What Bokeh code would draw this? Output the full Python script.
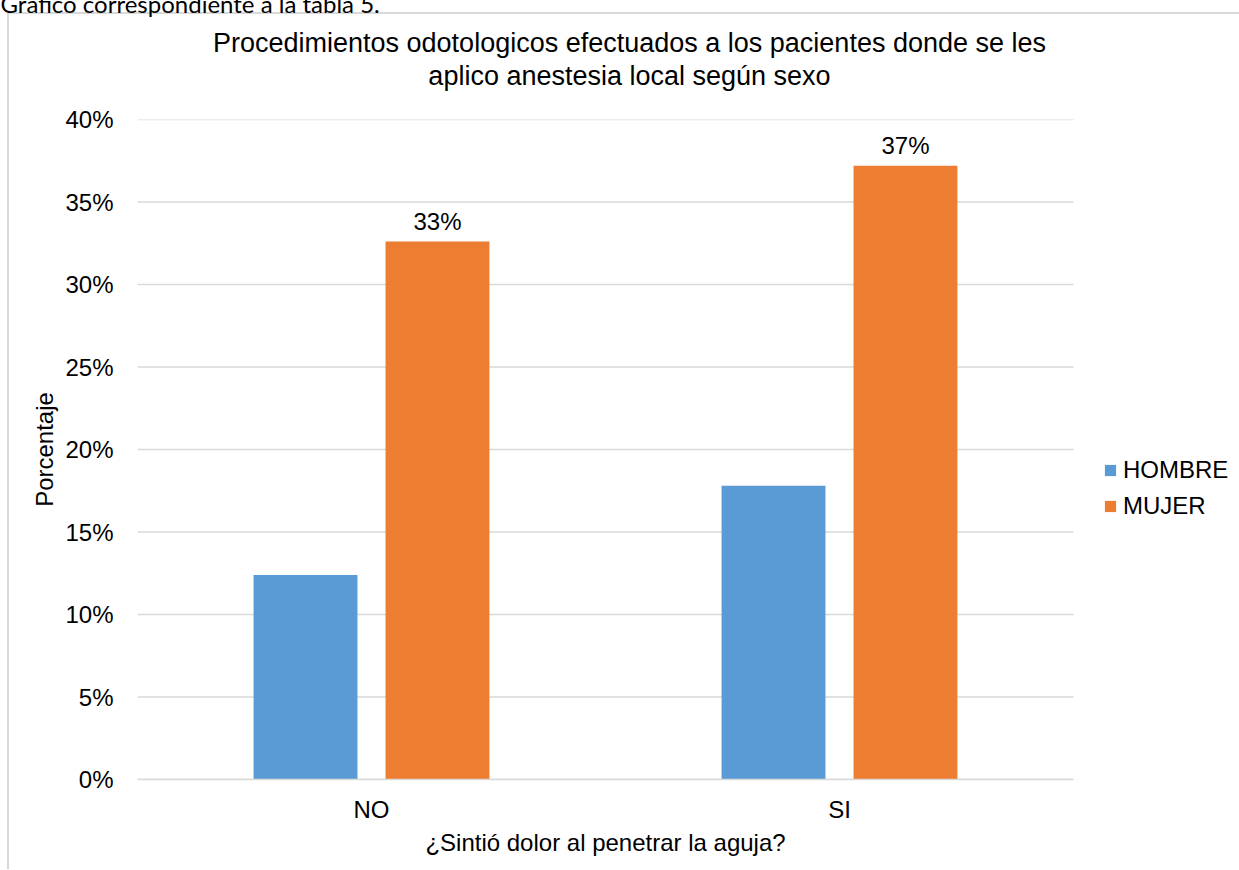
from bokeh.plotting import figure
from bokeh.models import (ColumnDataSource, Range1d, NumeralTickFormatter,
                          FixedTicker, LabelSet, Label, Legend, LegendItem)
from bokeh.core.properties import value
from bokeh.transform import dodge
from bokeh.embed import file_html
from bokeh.resources import INLINE

# Data (percent of patients)
categories = ["NO", "SI"]
hombre = [12.4, 17.8]
mujer = [32.6, 37.2]
series_names = ["HOMBRE", "MUJER"]
series_colors = ["#5B9BD5", "#ED7D31"]
y_ticks = [0, 5, 10, 15, 20, 25, 30, 35, 40]

title_lines = ["Procedimientos odotologicos efectuados a los pacientes donde se les",
               "aplico anestesia local según sexo"]
caption = "Gráfico correspondiente a la tabla 5."
x_title = "¿Sintió dolor al penetrar la aguja?"
y_title = "Porcentaje"

FONT = "Liberation Sans"
GRID = "#d9d9d9"

# category centres on a numeric axis (one unit per category)
xc = [i + 0.5 for i in range(len(categories))]
n_cat = len(categories)

src = ColumnDataSource(dict(
    xc=xc,
    hombre=[v / 100 for v in hombre],
    mujer=[v / 100 for v in mujer],
    mujer_label=[f"{round(v)}%" for v in mujer],
))

# thin frame of the chart box, painted behind the transparent canvas border
box_css = {
    "background-color": "white",
    "background-image": f"linear-gradient({GRID}, {GRID}), linear-gradient({GRID}, {GRID})",
    "background-size": "1231px 2px, 2px 857px",
    "background-position": "8px 12px, 7px 12px",
    "background-repeat": "no-repeat",
}

# the plotting frame runs to the right edge so the legend can sit beside the bars
left_px, plot_right_px, right_px = 137, 1073, 1239
plot_px = plot_right_px - left_px
frame_px = right_px - left_px
p = figure(width=1239, height=870,
           x_range=Range1d(0, n_cat * frame_px / plot_px),
           y_range=Range1d(0, y_ticks[-1] / 100),
           output_backend="svg", toolbar_location=None,
           min_border_left=left_px, min_border_right=0,
           min_border_top=119, min_border_bottom=91,
           styles=box_css)
p.outline_line_color = None
p.background_fill_color = None
p.border_fill_color = None
p.xgrid.grid_line_color = None
p.ygrid.grid_line_color = None

# horizontal gridlines across the category area only
grid_y = [t / 100 for t in y_ticks]
p.segment(x0=[0] * len(grid_y), x1=[n_cat] * len(grid_y), y0=grid_y, y1=grid_y,
          line_color=GRID, line_width=1.5, level="underlay")

bar_w = 0.222
off = 0.141
r_h = p.vbar(x=dodge("xc", -off), top="hombre", width=bar_w,
             source=src, fill_color=series_colors[0], line_color=None)
r_m = p.vbar(x=dodge("xc", off), top="mujer", width=bar_w,
             source=src, fill_color=series_colors[1], line_color=None)

labels = LabelSet(x=dodge("xc", off), y="mujer", text="mujer_label",
                  source=src, y_offset=12, text_align="center", text_baseline="alphabetic",
                  text_font=value(FONT), text_font_size=value("24px"), text_color="#000000")
p.add_layout(labels)

# axes
p.yaxis.ticker = FixedTicker(ticks=grid_y)
p.yaxis.formatter = NumeralTickFormatter(format="0%")
p.xaxis.ticker = FixedTicker(ticks=xc)
p.xaxis.major_label_overrides = {x: c for x, c in zip(xc, categories)}
p.xaxis.bounds = (0, n_cat)
for ax in (p.xaxis[0], p.yaxis[0]):
    ax.major_label_text_font = FONT
    ax.major_label_text_font_size = "24px"
    ax.major_label_text_color = "#000000"
    ax.axis_label_text_font = FONT
    ax.axis_label_text_font_size = "24px"
    ax.axis_label_text_font_style = "normal"
    ax.axis_label_text_color = "#000000"
    ax.major_tick_line_color = None
    ax.minor_tick_line_color = None
    ax.major_tick_out = 0
    ax.major_tick_in = 0
p.yaxis.axis_line_color = None
p.yaxis.major_label_standoff = 24
p.yaxis.axis_label = y_title
p.yaxis.axis_label_standoff = 4
p.xaxis.axis_line_color = GRID
p.xaxis.axis_line_width = 1.5
p.xaxis.major_label_standoff = 16

# x-axis title, centred under the category area
center_x = plot_px / 2
p.add_layout(Label(x=center_x, y=10, x_units="screen", y_units="screen",
                   text=x_title, text_align="center", text_baseline="alphabetic",
                   text_font=FONT, text_font_size="24px", text_color="#000000"),
             "below")

# legend to the right of the bars
legend = Legend(items=[LegendItem(label=series_names[0], renderers=[r_h]),
                       LegendItem(label=series_names[1], renderers=[r_m])],
                location=(966, 259), orientation="vertical",
                padding=0, margin=0, spacing=8,
                glyph_width=14, glyph_height=14, label_standoff=6,
                label_text_font=FONT, label_text_font_size="24px",
                label_text_color="#000000",
                border_line_color=None, background_fill_alpha=0)
p.add_layout(legend)

# top panel, stacked outwards from the plot: title line 2, title line 1, caption
title_cx = 629 - left_px
p.add_layout(Label(x=title_cx, y=44, x_units="screen", y_units="screen",
                   text=title_lines[1], text_align="center", text_baseline="alphabetic",
                   text_font=FONT, text_font_size="27px", text_color="#000000"),
             "above")
p.add_layout(Label(x=title_cx, y=47, x_units="screen", y_units="screen",
                   text=title_lines[0], text_align="center", text_baseline="alphabetic",
                   text_font=FONT, text_font_size="27px", text_color="#000000"),
             "above")
p.add_layout(Label(x=-left_px, y=56, x_units="screen", y_units="screen",
                   text=caption, text_align="left", text_baseline="alphabetic",
                   text_font="Lato", text_font_size="24px", text_color="#000000"),
             "above")

open("out.html", "w").write(file_html(p, INLINE))
